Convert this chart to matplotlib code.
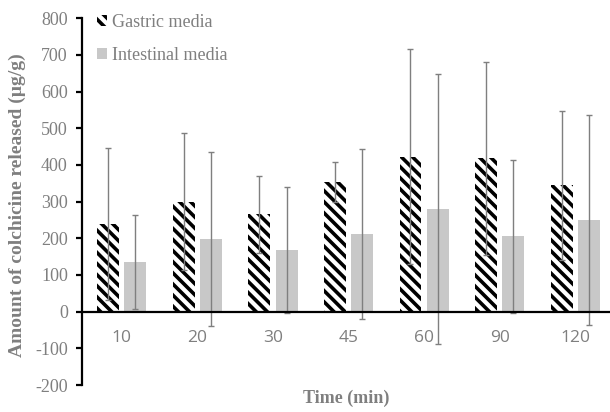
import numpy as np
import matplotlib.pyplot as plt
from matplotlib.patches import Patch

# data
times = ["10", "20", "30", "45", "60", "90", "120"]
gastric = [240, 300, 265, 353, 422, 418, 345]
gastric_err = [207, 186, 105, 55, 293, 263, 203]
intestinal = [135, 197, 168, 212, 280, 205, 250]
intestinal_err = [128, 237, 173, 232, 367, 208, 287]

grey_txt = "#7f7f7f"
bar_grey = "#c8c8c8"

plt.rcParams["hatch.linewidth"] = 2.6
plt.rcParams["hatch.color"] = "black"
plt.rcParams["axes.unicode_minus"] = False

fig = plt.figure(figsize=(6.1, 4.12), dpi=100)
ax = fig.add_axes([0.134, 0.0655, 0.866, 0.8905])

x = np.arange(len(times))
w = 0.29
off = 0.18

ax.bar(x - off, gastric, w, color="white", hatch="\\\\\\", edgecolor="black",
       linewidth=0, zorder=2)
ax.bar(x + off, intestinal, w, color=bar_grey, linewidth=0, zorder=2)

# error bars
ax.errorbar(x - off, gastric, yerr=gastric_err, fmt="none", ecolor="#7f7f7f",
            elinewidth=1, capsize=2.5, capthick=1, zorder=3)
ax.errorbar(x + off, intestinal, yerr=intestinal_err, fmt="none", ecolor="#7f7f7f",
            elinewidth=1, capsize=2.5, capthick=1, zorder=3)

ax.set_xlim(-0.53, 6.46)
ax.set_ylim(-200, 800)
ax.set_yticks(range(-200, 801, 100))

ax.spines["top"].set_visible(False)
ax.spines["right"].set_visible(False)
ax.spines["left"].set_linewidth(1.6)
ax.spines["bottom"].set_position(("data", 0))
ax.spines["bottom"].set_linewidth(1.6)
ax.spines["bottom"].set_zorder(4)

ax.set_xticks(x)
ax.set_xticklabels(times, fontfamily="Open Sans", fontsize=12.5, color=grey_txt)
ax.tick_params(axis="x", length=0, pad=13)
ax.tick_params(axis="y", length=4, width=1.6, colors="black", labelcolor=grey_txt,
               labelsize=13, pad=6)
for lab in ax.get_yticklabels():
    lab.set_fontfamily("Liberation Serif")

ax.set_ylabel("Amount of colchicine released (µg/g)", fontfamily="Liberation Serif",
              fontweight="bold", fontsize=14, color=grey_txt)
ax.yaxis.set_label_coords(-0.106, 0.49)
ax.set_xlabel("Time (min)", fontfamily="Liberation Serif", fontweight="bold",
              fontsize=13, color=grey_txt)
ax.xaxis.set_label_coords(0.5, -0.012)

handles = [Patch(facecolor="white", hatch="\\\\\\", edgecolor="black", linewidth=0),
           Patch(facecolor=bar_grey, linewidth=0)]
leg = ax.legend(handles, ["Gastric media", "Intestinal media"], loc="upper left",
                bbox_to_anchor=(-0.002, 1.055), frameon=False, handlelength=0.55,
                handleheight=0.55, handletextpad=0.3, labelspacing=0.85,
                prop={"family": "Liberation Serif", "size": 13})
for t in leg.get_texts():
    t.set_color(grey_txt)

fig.savefig("out.png", dpi=100)
